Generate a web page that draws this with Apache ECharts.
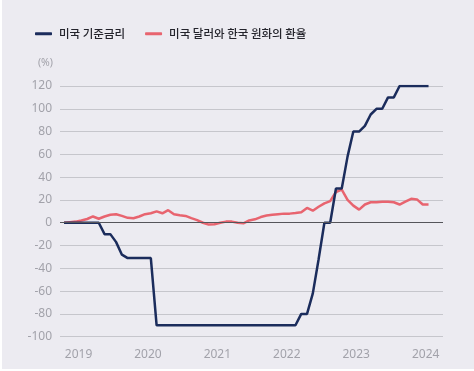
<!DOCTYPE html>
<html>
<head>
<meta charset="utf-8">
<script src="https://cdn.jsdelivr.net/npm/echarts@6/dist/echarts.min.js"></script>
<style>
  html, body { margin: 0; padding: 0; background: #ffffff; }
  #bg { position: absolute; left: 2px; top: 0; width: 472px; height: 369px; background: #ecebf1; }
  #chart { position: absolute; left: 0; top: 0; width: 474px; height: 371px; }
</style>
</head>
<body>
<div id="bg"></div>
<div id="chart"></div>
<script>
// Monthly observations, Oct 2018 .. Jan 2024
const startYear = 2018, startMonth = 10, monthCount = 64;
const months = [];
for (let i = 0; i < monthCount; i++) {
  const t = (startYear * 12 + startMonth - 1) + i;
  months.push(Math.floor(t / 12) + '-' + String(t % 12 + 1).padStart(2, '0'));
}

const seriesNames = ['미국 기준금리', '미국 달러와 한국 원화의 환율'];

// 미국 기준금리 (% change)
const fedRate = [
  0, 0, 0, 0, 0, 0, 0, -10, -10, -17, -28, -31, -31, -31, -31, -31,
  -90, -90, -90, -90, -90, -90, -90, -90, -90, -90, -90, -90, -90, -90, -90, -90,
  -90, -90, -90, -90, -90, -90, -90, -90, -90, -80, -80, -62, -32, 0, 0, 30,
  30, 58, 80, 80, 85, 95, 100, 100, 110, 110, 120, 120, 120, 120, 120, 120
];

// 미국 달러와 한국 원화의 환율 (% change)
const fxRate = [
  0, 0.5, 1, 2, 3.3, 5.5, 3.5, 5.5, 7, 7.5, 6, 4.3, 4, 5.5, 7.5, 8.3,
  10, 8.3, 11, 7.5, 6.5, 6, 4, 2.3, 0, -1.6, -1.3, 0, 1, 1, 0, -0.5,
  2, 3, 5, 6.3, 7, 7.5, 8, 8, 8.5, 9.2, 13, 10.6, 14, 17, 19, 27,
  29, 20, 15, 11.5, 16, 18, 18, 18.5, 18.5, 18, 16, 18.5, 21, 20.5, 16, 16
];

const yearTicks = [2019, 2020, 2021, 2022, 2023, 2024];
const yTicks = { min: -100, max: 120, interval: 20 };

// month position relative to Jan 2019 (mid-month)
function monthToX(s) {
  const [y, m] = s.split('-').map(Number);
  return (y - 2019) * 12 + (m - 1) + 0.5;
}
const yearToX = y => (y - 2019) * 12;

const chart = echarts.init(document.getElementById('chart'), null, { renderer: 'canvas' });
const font = "'Noto Sans', 'Noto Sans CJK KR', sans-serif";

chart.setOption({
  animation: false,
  backgroundColor: 'transparent',
  textStyle: { fontFamily: font },
  legend: {
    left: 30, top: 23,
    itemWidth: 17, itemHeight: 3, itemGap: 20,
    icon: 'roundRect',
    textStyle: { fontFamily: "'Noto Sans CJK KR', sans-serif", fontSize: 11.5, color: '#24242c', fontWeight: 500, padding: [0, 0, 0, 2] },
    data: seriesNames
  },
  graphic: [{
    type: 'text', right: 474 - 53, top: 58,
    style: { text: '(%)', fontFamily: font, fontSize: 10.5, fill: '#a2a2aa', textAlign: 'right' }
  }],
  grid: { left: 60, right: 31, top: 86, bottom: 34.3 },
  xAxis: {
    type: 'value',
    min: -3.2, max: 63,
    axisLine: { show: false },
    axisTick: { show: false },
    splitLine: { show: false },
    axisLabel: {
      customValues: yearTicks.map(yearToX),
      formatter: v => String(2019 + Math.round(v / 12)),
      color: '#a2a2aa', fontSize: 12, margin: 12, fontFamily: font
    }
  },
  yAxis: {
    type: 'value',
    min: yTicks.min, max: yTicks.max, interval: yTicks.interval,
    axisLine: { show: false },
    axisTick: { show: false },
    axisLabel: { color: '#a2a2aa', fontSize: 12, margin: 8, fontFamily: font },
    splitLine: { lineStyle: { color: '#c6c6cc', width: 1 } }
  },
  series: [
    {
      name: seriesNames[0], type: 'line', showSymbol: false, symbol: 'none',
      data: months.map((m, i) => [monthToX(m), fedRate[i]]),
      lineStyle: { color: '#1b2c5c', width: 2.5 },
      itemStyle: { color: '#1b2c5c' },
      z: 3
    },
    {
      name: seriesNames[1], type: 'line', showSymbol: false, symbol: 'none',
      data: months.map((m, i) => [monthToX(m), fxRate[i]]),
      lineStyle: { color: '#e8646f', width: 2.5 },
      itemStyle: { color: '#e8646f' },
      z: 2,
      markLine: {
        silent: true, symbol: 'none', label: { show: false },
        lineStyle: { color: '#55555a', width: 1, type: 'solid' },
        data: [{ yAxis: 0 }]
      }
    }
  ]
});
</script>
</body>
</html>
